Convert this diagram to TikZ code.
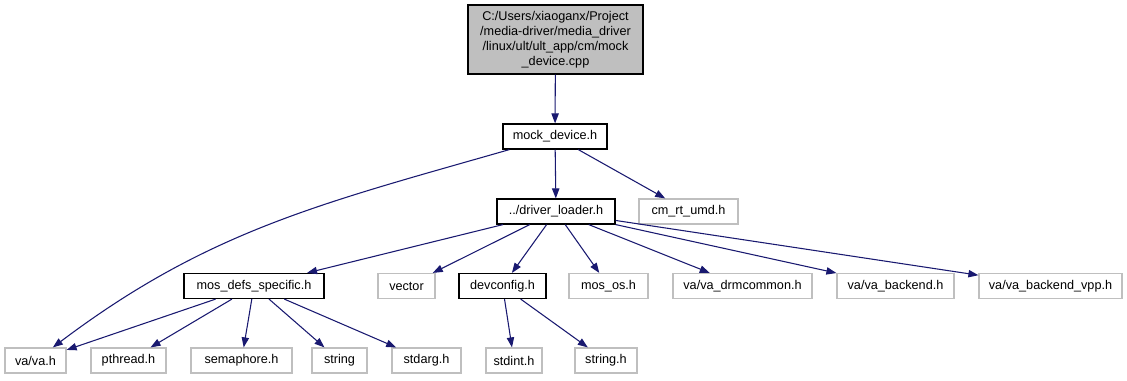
\documentclass[tikz,border=0pt]{standalone}
\usepackage{fontspec}
\setmainfont{Liberation Sans}
\usetikzlibrary{arrows.meta}
\definecolor{edgeblue}{HTML}{191970}
\definecolor{sysgray}{HTML}{BFBFBF}
\definecolor{rootfill}{HTML}{BFBFBF}

\begin{document}
\begin{tikzpicture}[x=0.75pt, y=-0.75pt,
    every node/.style={font=\fontsize{9.5}{11.25}\selectfont, inner sep=0pt, minimum height=18.75pt},
    boxw/.style={minimum width=#1*0.75pt},
    hdr/.style={draw=black, line width=0.9pt, fill=white},
    sys/.style={draw=sysgray, line width=0.9pt, fill=white},
    root/.style={draw=black, line width=0.9pt, fill=rootfill, align=center, minimum height=51.75pt},
    inc/.style={edgeblue, line width=0.8pt, -{Triangle[length=7.5pt, width=5.5pt]}}]
    \useasboundingbox (0,0) rectangle (1127,380);

    % the source file
    \node[root, boxw=175] (cpp) at (555.5,39.5)
        {C:/Users/xiaoganx/Project\\/media-driver/media\_driver\\/linux/ult/ult\_app/cm/mock\\\_device.cpp};

    % first and second level
    \node[hdr, boxw=104] (mock) at (555,136.5) {mock\_device.h};
    \node[hdr, boxw=118] (loader) at (556,211.5) {../driver\_loader.h};
    \node[sys, boxw=99] (cmrt) at (688.5,211.5) {cm\_rt\_umd.h};

    % headers pulled in by the loader
    \node[hdr, boxw=140] (mosdefs) at (254,286) {mos\_defs\_specific.h};
    \node[sys, boxw=57] (vector) at (406.5,286) {vector};
    \node[hdr, boxw=87] (devcfg) at (502.5,286) {devconfig.h};
    \node[sys, boxw=79] (mosos) at (608.5,286) {mos\_os.h};
    \node[sys, boxw=139] (drm) at (742.5,286) {va/va\_drmcommon.h};
    \node[sys, boxw=117] (backend) at (895.5,286) {va/va\_backend.h};
    \node[sys, boxw=143] (vpp) at (1050.5,286) {va/va\_backend\_vpp.h};

    % bottom row
    \node[sys, boxw=61] (vah) at (35.5,360.5) {va/va.h};
    \node[sys, boxw=75] (pthread) at (128.5,360.5) {pthread.h};
    \node[sys, boxw=101] (sema) at (241.5,360.5) {semaphore.h};
    \node[sys, boxw=55] (string) at (339.5,360.5) {string};
    \node[sys, boxw=69] (stdarg) at (426.5,360.5) {stdarg.h};
    \node[sys, boxw=56] (stdint) at (514,360.5) {stdint.h};
    \node[sys, boxw=62] (stringh) at (606,360.5) {string.h};

    % include edges
    \draw[inc] (cpp) -- (mock);
    \draw[inc] (mock) to[out=196, in=37] (vah);
    \draw[inc] (mock) -- (loader);
    \draw[inc] (mock) -- (cmrt);

    \foreach \t in {mosdefs, vector, devcfg, mosos, drm, backend, vpp}
        \draw[inc] (loader) -- (\t);

    \foreach \t in {vah, pthread, sema, string, stdarg}
        \draw[inc] (mosdefs) -- (\t);

    \draw[inc] (devcfg) -- (stdint);
    \draw[inc] (devcfg) -- (stringh);
\end{tikzpicture}
\end{document}
